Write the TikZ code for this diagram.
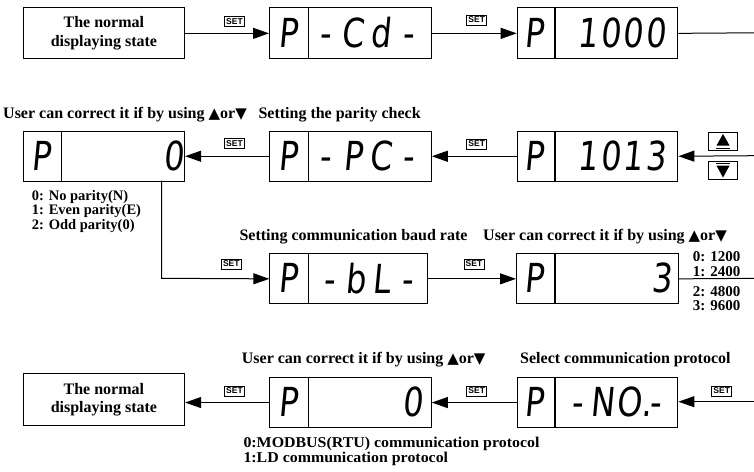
\documentclass[tikz,border=0pt]{standalone}
\usepackage{fontspec}
\setmainfont{Liberation Serif}
\newfontfamily\segf[FakeSlant=0.12]{DejaVu Sans}
\newfontfamily\symf{DejaVu Sans}
\newfontfamily\keyf{Liberation Sans}
\usetikzlibrary{arrows.meta}
\newlength\sgw
\newcommand\sgc[1]{\makebox[\sgw][c]{#1}}
\newcommand\segt[2]{\scalebox{0.8}[1]{\segf\fontsize{40}{40}\selectfont\setlength\sgw{#1}#2}}
\newcommand\upd{{\symf\fontsize{15}{15}\selectfont ▲}or{\symf\fontsize{15}{15}\selectfont ▼}}
\tikzset{
  lbox/.style={draw, line width=1.1pt, inner sep=0, anchor=north west, align=center, font=\bfseries\fontsize{16}{18.4}\selectfont},
  dispbox/.style={draw, line width=1.1pt, inner sep=0, anchor=north west},
  seg/.style={inner sep=0},
  lbl/.style={font=\bfseries\fontsize{16}{18.4}\selectfont, inner sep=0, anchor=base west},
  opt/.style={font=\bfseries\fontsize{14.5}{14.5}\selectfont, inner sep=0, anchor=base west},
  conn/.style={line width=1pt},
  arr/.style={conn, -{Triangle[length=16pt,width=11pt]}},
  setkey/.style={draw, line width=0.8pt, inner sep=0, minimum width=20, minimum height=10, font=\keyf\bfseries\fontsize{8.5}{8.5}\selectfont},
  btn/.style={draw, line width=0.8pt, anchor=north west, inner sep=0, minimum width=29, minimum height=18.5},
}
\begin{document}
\begin{tikzpicture}[x=1pt,y=-1pt]
\useasboundingbox (0,0) rectangle (754,471);

% ---------- row 1
\node[lbox, minimum width=161.3, minimum height=51] (b1) at (22.7,7.3) {The normal\\displaying state};
\node[dispbox, minimum width=161.7, minimum height=51] (d1) at (269,7.3) {};
\draw[line width=1.1pt] (308.3,7.3) -- (308.3,58.3);
\node[seg] (d1p) at (288,32.8) {\segt{30pt}{\sgc{P}}};
\node[seg] (d1v) at (366.7,32.8) {\segt{34.4pt}{\sgc{-}\sgc{C}\sgc{d}\sgc{-}}};
\node[dispbox, minimum width=160.6, minimum height=51] (d2) at (516.7,7.3) {};
\draw[line width=1.1pt] (555,7.3) -- (555,58.3);
\node[seg] (d2p) at (534,32.8) {\segt{30pt}{\sgc{P}}};
\node[seg] (d2v) at (621.7,32.8) {\segt{28.1pt}{\sgc{1}\sgc{0}\sgc{0}\sgc{0}}};
\coordinate (e1) at (754,32.8);
\node[setkey] (k1) at (234.5,21.5) {SET};
\node[setkey] (k2) at (476.7,20) {SET};
\draw[arr] (b1.east) -- (b1.east -| d1.west);
\draw[arr] (d1.east) -- (d2.west);
\draw[conn] (d2.east) -- (e1);

% ---------- row 2
\node[lbl] (t1) at (3,118) {User can correct it if by using \upd};
\node[lbl] (t2) at (258.3,118) {Setting the parity check};
\node[dispbox, minimum width=161.3, minimum height=50] (d3) at (22.7,130.7) {};
\draw[line width=1.1pt] (61.7,130.7) -- (61.7,180.7);
\node[seg] (d3p) at (41,155.7) {\segt{30pt}{\sgc{P}}};
\node[seg] (d3v) at (173.3,155.7) {\segt{30pt}{\sgc{0}}};
\node[dispbox, minimum width=161.7, minimum height=50] (d4) at (269,130.7) {};
\draw[line width=1.1pt] (308.3,130.7) -- (308.3,180.7);
\node[seg] (d4p) at (288,155.7) {\segt{30pt}{\sgc{P}}};
\node[seg] (d4v) at (366.7,155.7) {\segt{34.4pt}{\sgc{-}\sgc{P}\sgc{C}\sgc{-}}};
\node[dispbox, minimum width=160.6, minimum height=50] (d5) at (516.7,130.7) {};
\draw[line width=1.1pt] (555,130.7) -- (555,180.7);
\node[seg] (d5p) at (534,155.7) {\segt{30pt}{\sgc{P}}};
\node[seg] (d5v) at (621.7,155.7) {\segt{28.1pt}{\sgc{1}\sgc{0}\sgc{1}\sgc{3}}};
\coordinate (e2) at (754,155.7);
\node[setkey] (k3) at (234.5,143.5) {SET};
\node[setkey] (k4) at (476.7,144) {SET};
\draw[arr] (e2) -- (d5.east);
\draw[arr] (d5.west) -- (d4.east);
\draw[arr] (d4.west) -- (d3.east);
% up / down buttons
\node[btn] (bu) at (708.3,131.5) {};
\node[btn] (bd) at (708.3,160.5) {};
\fill (723,134) -- (729.5,145.5) -- (716.5,145.5) -- cycle;
\draw[line width=0.8pt] (716,148) -- (730,148);
\draw[line width=0.8pt] (716,163.3) -- (730,163.3);
\fill (716.5,165.7) -- (729.5,165.7) -- (723,177.5) -- cycle;
% parity options
\node[opt] (o1) at (31.7,200) {0: No parity(N)};
\node[opt] (o2) at (31.7,214.5) {1: Even parity(E)};
\node[opt] (o3) at (31.7,229) {2: Odd parity(0)};

% ---------- row 3
\node[lbl] (t3) at (239.3,240) {Setting communication baud rate};
\node[lbl] (t4) at (483,240) {User can correct it if by using \upd};
\coordinate (c1) at (161.7,180.7);
\coordinate (c2) at (161.7,278.3);
\node[dispbox, minimum width=157.4, minimum height=50] (d6) at (269.3,253.3) {};
\draw[line width=1.1pt] (308.3,253.3) -- (308.3,303.3);
\node[seg] (d6p) at (288,278.3) {\segt{30pt}{\sgc{P}}};
\node[seg] (d6v) at (368.3,278.3) {\segt{32.5pt}{\sgc{-}\sgc{b}\sgc{L}\sgc{-}}};
\node[dispbox, minimum width=161.7, minimum height=50] (d7) at (516,253.3) {};
\draw[line width=1.1pt] (555,253.3) -- (555,303.3);
\node[seg] (d7p) at (534,278.3) {\segt{30pt}{\sgc{P}}};
\node[seg] (d7v) at (661.7,278.3) {\segt{30pt}{\sgc{3}}};
\coordinate (e3) at (754,278.3);
\node[setkey] (k5) at (231.3,264) {SET};
\node[setkey] (k6) at (474,264) {SET};
\draw[arr] (c1) -- (c2) -- (d6.west);
\draw[arr] (d6.east) -- (d6.east -| d7.west);
\draw[conn] (d7.east) -- (e3);
\node[opt, font=\bfseries\fontsize{15}{15}\selectfont] (r1) at (692.7,261.7) {0: 1200};
\node[opt, font=\bfseries\fontsize{15}{15}\selectfont] (r2) at (692.7,276) {1: 2400};
\node[opt, font=\bfseries\fontsize{15}{15}\selectfont] (r3) at (692.7,296) {2: 4800};
\node[opt, font=\bfseries\fontsize{15}{15}\selectfont] (r4) at (692.7,310.7) {3: 9600};

% ---------- row 4
\node[lbl] (t5) at (241.7,363.3) {User can correct it if by using \upd};
\node[lbl] (t6) at (520,363.3) {Select communication protocol};
\node[lbox, minimum width=161.3, minimum height=51.7] (b2) at (22.7,373.3) {The normal\\displaying state};
\node[dispbox, minimum width=161.4, minimum height=50.6] (d9) at (269.3,376.7) {};
\draw[line width=1.1pt] (308.3,376.7) -- (308.3,427.3);
\node[seg] (d9p) at (288,402) {\segt{30pt}{\sgc{P}}};
\node[seg] (d9v) at (413,402) {\segt{30pt}{\sgc{0}}};
\node[dispbox, minimum width=160.6, minimum height=50.6] (d8) at (516.7,376.7) {};
\draw[line width=1.1pt] (555,376.7) -- (555,427.3);
\node[seg] (d8p) at (534,402) {\segt{30pt}{\sgc{P}}};
\node[seg] (d8v) at (615.8,402) {\segt{32.5pt}{\sgc{-}\sgc{N}\sgc{O\rlap{.}}\sgc{-}}};
\coordinate (e4) at (754,401.7);
\node[setkey] (k7) at (234.5,391) {SET};
\node[setkey] (k8) at (476.7,391) {SET};
\node[setkey] (k9) at (721.7,391) {SET};
\draw[arr] (e4) -- (e4 -| d8.east);
\draw[arr] (d8.west) -- (d8.west -| d9.east);
\draw[arr] (d9.west) -- (d9.west -| b2.east);
\node[opt, font=\bfseries\fontsize{15}{15}\selectfont] (p1) at (243.3,447) {\scalebox{1.06}[1]{0:MODBUS(RTU) communication protocol}};
\node[opt, font=\bfseries\fontsize{15}{15}\selectfont] (p2) at (243.3,462.5) {\scalebox{1.06}[1]{1:LD communication protocol}};
\end{tikzpicture}
\end{document}
